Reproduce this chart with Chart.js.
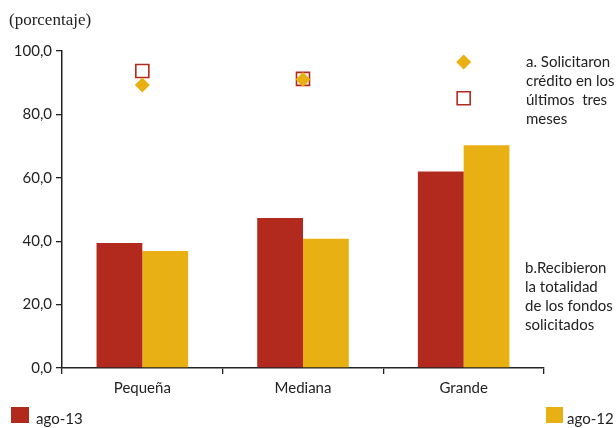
<!DOCTYPE html>
<html>
<head>
<meta charset="utf-8">
<script src="https://cdn.jsdelivr.net/npm/chart.js@4/dist/chart.umd.min.js"></script>
<style>
  html, body { margin: 0; padding: 0; background: #fff; }
  #wrap { width: 616px; height: 428px; position: relative; }
</style>
</head>
<body>
<div id="wrap"><canvas id="c" width="616" height="428"></canvas></div>
<script>
// Empresas por tamaño
const categories = ['Pequeña', 'Mediana', 'Grande'];

// b. Recibieron la totalidad de los fondos solicitados (barras)
const recibieronAgo13 = [39.4, 47.3, 62.0];
const recibieronAgo12 = [36.9, 40.8, 70.3];

// a. Solicitaron crédito en los últimos tres meses (marcadores)
const solicitaronAgo13 = [93.7, 91.2, 85.1];
const solicitaronAgo12 = [89.3, 91.0, 96.5];

const seriesLabels = ['ago-13', 'ago-12'];
const yTicks = [0, 20, 40, 60, 80, 100];

const noteA = ['a. Solicitaron', 'crédito en los', 'últimos  tres', 'meses'];
const noteB = ['b.Recibieron', 'la totalidad', 'de los fondos', 'solicitados'];
const unitLabel = '(porcentaje)';

const RED = '#B22A1E';
const YELLOW = '#E9B013';
const SANS = 'Lato, "Open Sans", sans-serif';

const notesPlugin = {
  id: 'notes',
  afterDraw(chart) {
    const ctx = chart.ctx;
    ctx.save();
    ctx.fillStyle = '#222';
    ctx.textBaseline = 'middle';
    // unidad
    ctx.font = '17px "Liberation Serif", "DejaVu Serif", serif';
    ctx.textAlign = 'left';
    ctx.fillText(unitLabel, 9, 21);
    // notas a la derecha
    ctx.font = '15px ' + SANS;
    noteA.forEach((t, i) => ctx.fillText(t, 526, 62 + i * 19.2));
    noteB.forEach((t, i) => ctx.fillText(t, 525, 268 + i * 19.2));
    // leyenda inferior
    ctx.fillStyle = RED;
    ctx.fillRect(11, 407, 18, 16);
    ctx.fillStyle = YELLOW;
    ctx.fillRect(546, 407, 17, 16);
    ctx.fillStyle = '#222';
    ctx.fillText(seriesLabels[0], 36, 419);
    ctx.fillText(seriesLabels[1], 567, 419);
    ctx.restore();
  }
};

new Chart(document.getElementById('c'), {
  type: 'bar',
  data: {
    labels: categories,
    datasets: [
      {
        label: seriesLabels[0],
        data: recibieronAgo13,
        backgroundColor: RED,
        order: 3,
        barPercentage: 1.0,
        categoryPercentage: 0.57
      },
      {
        label: seriesLabels[1],
        data: recibieronAgo12,
        backgroundColor: YELLOW,
        order: 3,
        barPercentage: 1.0,
        categoryPercentage: 0.57
      },
      {
        type: 'line',
        label: seriesLabels[0] + ' (a)',
        data: solicitaronAgo13,
        showLine: false,
        pointStyle: 'rect',
        pointRadius: 9.2,
        pointHoverRadius: 9.2,
        pointBorderWidth: 1.6,
        pointBorderColor: RED,
        pointBackgroundColor: '#fff',
        order: 2
      },
      {
        type: 'line',
        label: seriesLabels[1] + ' (a)',
        data: solicitaronAgo12,
        showLine: false,
        pointStyle: 'rectRot',
        pointRadius: 7.5,
        pointHoverRadius: 7.5,
        pointBorderWidth: 0,
        pointBorderColor: YELLOW,
        pointBackgroundColor: YELLOW,
        order: 1
      }
    ]
  },
  options: {
    responsive: false,
    animation: false,
    events: [],
    layout: { padding: { left: 0, top: 51, right: 72, bottom: 0 } },
    plugins: {
      legend: { display: false },
      tooltip: { enabled: false }
    },
    scales: {
      x: {
        offset: true,
        grid: {
          offset: true,
          drawOnChartArea: false,
          drawTicks: true,
          tickLength: 6,
          color: '#222',
          lineWidth: 1.3
        },
        border: { display: true, color: '#222', width: 1.5 },
        ticks: {
          color: '#222',
          font: { family: SANS, size: 15 },
          padding: 5
        },
        afterFit(scale) { scale.height = 60; }
      },
      y: {
        min: 0,
        max: 100,
        afterBuildTicks(scale) { scale.ticks = yTicks.map(v => ({ value: v })); },
        grid: {
          drawOnChartArea: false,
          drawTicks: true,
          tickLength: 6,
          color: '#222',
          lineWidth: 1.3
        },
        border: { display: true, color: '#222', width: 1.5 },
        ticks: {
          color: '#222',
          font: { family: SANS, size: 15 },
          padding: 4,
          callback: v => v.toFixed(1).replace('.', ',')
        },
        afterFit(scale) { scale.width = 62; }
      }
    }
  },
  plugins: [notesPlugin]
});
</script>
</body>
</html>
